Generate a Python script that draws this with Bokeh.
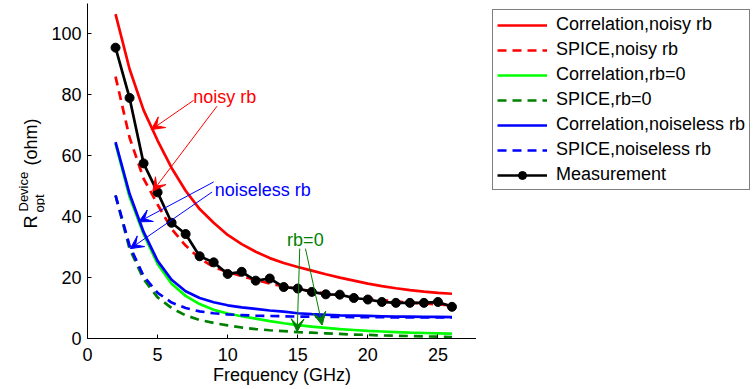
import numpy as np
from bokeh.plotting import figure
from bokeh.layouts import row
from bokeh.models import (Legend, LegendItem, Label, Arrow, VeeHead, Range1d,
                          FixedTicker)
from bokeh.core.properties import value
from bokeh.embed import file_html
from bokeh.resources import INLINE

# ---------------- data ----------------
freq = list(range(2, 27))  # GHz

corr_noisy = [106.5, 88.5, 75, 65, 56, 48.5, 42.5, 38, 34, 31, 28.5, 26.4, 24.8,
              23.5, 22.3, 21.1, 20.0, 19.0, 18.0, 17.2, 16.5, 15.9, 15.4, 15.0, 14.7]
spice_noisy = [86, 66, 52.5, 44, 36, 30.5, 26.3, 23.5, 21.8, 20.5, 19.2, 18.1, 17.1,
               16.3, 15.5, 14.8, 14.2, 13.6, 13.1, 12.6, 12.2, 11.8, 11.5, 11.2, 10.9]
corr_rb0 = [64, 46.5, 34.3, 24.5, 18, 14, 11.3, 9.4, 8.2, 7.3, 6.5, 5.7, 5.0,
            4.4, 3.9, 3.5, 3.1, 2.8, 2.5, 2.3, 2.1, 1.9, 1.8, 1.7, 1.6]
spice_rb0 = [47, 29.5, 19.5, 13.5, 10, 7.6, 6.1, 5.1, 4.3, 3.6, 3.1, 2.7, 2.4,
             2.1, 1.9, 1.7, 1.5, 1.3, 1.2, 1.0, 0.9, 0.8, 0.7, 0.6, 0.5]
corr_noiseless = [64.5, 47.5, 35, 25.5, 19.3, 15.5, 13.3, 11.9, 10.9, 10.2, 9.7, 9.2, 8.8,
                  8.3, 8.0, 7.8, 7.6, 7.5, 7.4, 7.3, 7.2, 7.2, 7.1, 7.1, 7.0]
spice_noiseless = [47, 30.5, 20.5, 15, 11.8, 10.0, 8.9, 8.3, 7.9, 7.7, 7.5, 7.4, 7.3,
                   7.2, 7.2, 7.1, 7.1, 7.0, 7.0, 7.0, 6.9, 6.9, 6.9, 6.9, 6.9]
measurement = [95.5, 79, 57.5, 48, 38, 34.3, 27, 25, 21.2, 21.9, 19.0, 19.7, 16.9,
               16.4, 15.3, 14.5, 14.4, 13.3, 12.8, 12.0, 11.7, 11.7, 11.7, 12.0, 10.4]

x_ticks = [0, 5, 10, 15, 20, 25]
y_ticks = [0, 20, 40, 60, 80, 100]

series_labels = ["Correlation,noisy rb", "SPICE,noisy rb", "Correlation,rb=0",
                 "SPICE,rb=0", "Correlation,noiseless rb", "SPICE,noiseless rb",
                 "Measurement"]

# annotation texts and arrows (x_start, y_start, x_end, y_end) in data units
noisy_text = ("noisy rb", 7.55, 79.3)
noisy_arrows = [(7.57, 78.2, 4.55, 68.6), (9.24, 76.3, 4.66, 48.4)]
noiseless_text = ("noiseless rb", 9.07, 48.7)
noiseless_arrows = [(9.0, 51.4, 3.66, 38.3), (8.89, 48.1, 3.05, 29.5)]
rb0_text = ("rb=0", 14.24, 32.3)
rb0_arrows = [(15.14, 29.5, 14.96, 2.2), (15.55, 29.5, 16.74, 4.4)]

FONT = "Liberation Sans"
FS = "18px"
RED, GREEN, DGREEN, BLUE = "#ff0000", "#00ff00", "#008000", "#0000ff"
DASH = "9 6"
LW = 2.7

W, H = 754, 389
TOP, BOTTOM = 3, 51           # borders above / below the plotting frame
LEFT_W = 45                   # y-label panel
MAIN_W = 431                  # main plot (frame from 87 to 476)
LEG_W = W - LEFT_W - MAIN_W   # legend panel

# ---------------- y-axis label panel ----------------
pl = figure(width=LEFT_W, height=H, output_backend="svg", toolbar_location=None,
            x_range=Range1d(0, LEFT_W), y_range=Range1d(H - BOTTOM, TOP),
            x_axis_location=None, y_axis_location=None,
            min_border_left=0, min_border_right=0,
            min_border_top=TOP, min_border_bottom=BOTTOM)
pl.outline_line_color = None
pl.grid.visible = False
ylab_parts = [("R", 30.5, 228, "18px"), ("opt", 38.5, 212, "13px"),
              ("Device", 22.5, 211, "13px"), ("(ohm)", 30.5, 165, "18px")]
for t, xx, yy, fs in ylab_parts:
    pl.text(x=[xx], y=[yy], text=[t], angle=np.pi / 2, text_font=value(FONT),
            text_font_size=value(fs), text_baseline="alphabetic",
            text_align="left", text_color="black")

# ---------------- main plot ----------------
p = figure(width=MAIN_W, height=H, output_backend="svg", toolbar_location=None,
           x_range=Range1d(0, 27.75), y_range=Range1d(0, 110),
           min_border_left=87 - LEFT_W, min_border_right=0, min_border_top=TOP,
           min_border_bottom=BOTTOM)
p.outline_line_color = None
p.grid.visible = False
p.background_fill_color = "white"
p.border_fill_color = "white"

styles = [dict(line_color=RED), dict(line_color=RED, line_dash=DASH),
          dict(line_color=GREEN), dict(line_color=DGREEN, line_dash=DASH),
          dict(line_color=BLUE), dict(line_color=BLUE, line_dash=DASH),
          dict(line_color="black")]
series = [corr_noisy, spice_noisy, corr_rb0, spice_rb0, corr_noiseless,
          spice_noiseless, measurement]
for ys, st in zip(series, styles):
    p.line(freq, ys, line_width=LW, **st)
p.scatter(freq, measurement, size=9, marker="circle", fill_color="black",
          line_color="black")

for ax in (p.xaxis[0], p.yaxis[0]):
    ax.major_tick_in = 4
    ax.major_tick_out = 0
    ax.minor_tick_in = 0
    ax.minor_tick_out = 0
    ax.axis_line_color = "black"
    ax.major_tick_line_color = "black"
    ax.major_label_text_font = FONT
    ax.major_label_text_font_size = FS
    ax.major_label_text_color = "black"
p.xaxis.ticker = FixedTicker(ticks=x_ticks)
p.yaxis.ticker = FixedTicker(ticks=y_ticks)
p.xaxis.major_label_standoff = 9
p.yaxis.major_label_standoff = 6
p.xaxis.axis_label = "Frequency (GHz)"
p.xaxis.axis_label_text_font = FONT
p.xaxis.axis_label_text_font_size = FS
p.xaxis.axis_label_text_font_style = "normal"
p.xaxis.axis_label_text_color = "black"
p.xaxis.axis_label_standoff = 1

# annotations
for (txt, tx, ty), arrows, col in ((noisy_text, noisy_arrows, RED),
                                   (noiseless_text, noiseless_arrows, BLUE),
                                   (rb0_text, rb0_arrows, DGREEN)):
    p.add_layout(Label(x=tx, y=ty, text=txt, text_color=col, text_font=FONT,
                       text_font_size=FS, text_baseline="alphabetic",
                       text_align="left"))
    for xs, ys, xe, ye in arrows:
        p.add_layout(Arrow(x_start=xs, y_start=ys, x_end=xe, y_end=ye,
                           line_color=col, line_width=1,
                           end=VeeHead(size=13, fill_color=col, line_color=col,
                                       line_width=1)))

# ---------------- legend panel (same line styles as the plot) ----------------
pr = figure(width=LEG_W, height=H, output_backend="svg", toolbar_location=None,
            x_range=Range1d(0, 1), y_range=Range1d(0, 1),
            x_axis_location=None, y_axis_location=None,
            min_border_left=0, min_border_right=0,
            min_border_top=TOP, min_border_bottom=BOTTOM)
pr.outline_line_color = None
pr.grid.visible = False
nan = [float("nan")]
items = []
for lab, st in zip(series_labels, styles):
    rr = [pr.line(nan, nan, line_width=LW, **st)]
    if lab == "Measurement":
        rr.append(pr.scatter(nan, nan, size=9, marker="circle", fill_color="black",
                             line_color="black"))
    items.append(LegendItem(label=lab, renderers=rr))
legend = Legend(items=items, location=(16, 148))
legend.label_text_font = FONT
legend.label_text_font_size = FS
legend.label_text_color = "black"
legend.glyph_width = 50
legend.glyph_height = 20
legend.label_height = 20
legend.spacing = 4
legend.padding = 4
legend.margin = 0
legend.label_standoff = 9
legend.border_line_color = "black"
legend.border_line_width = 1
legend.background_fill_color = "white"
legend.background_fill_alpha = 1
pr.add_layout(legend, "center")

layout = row(pl, p, pr, spacing=0)
open("out.html", "w").write(file_html(layout, INLINE))
